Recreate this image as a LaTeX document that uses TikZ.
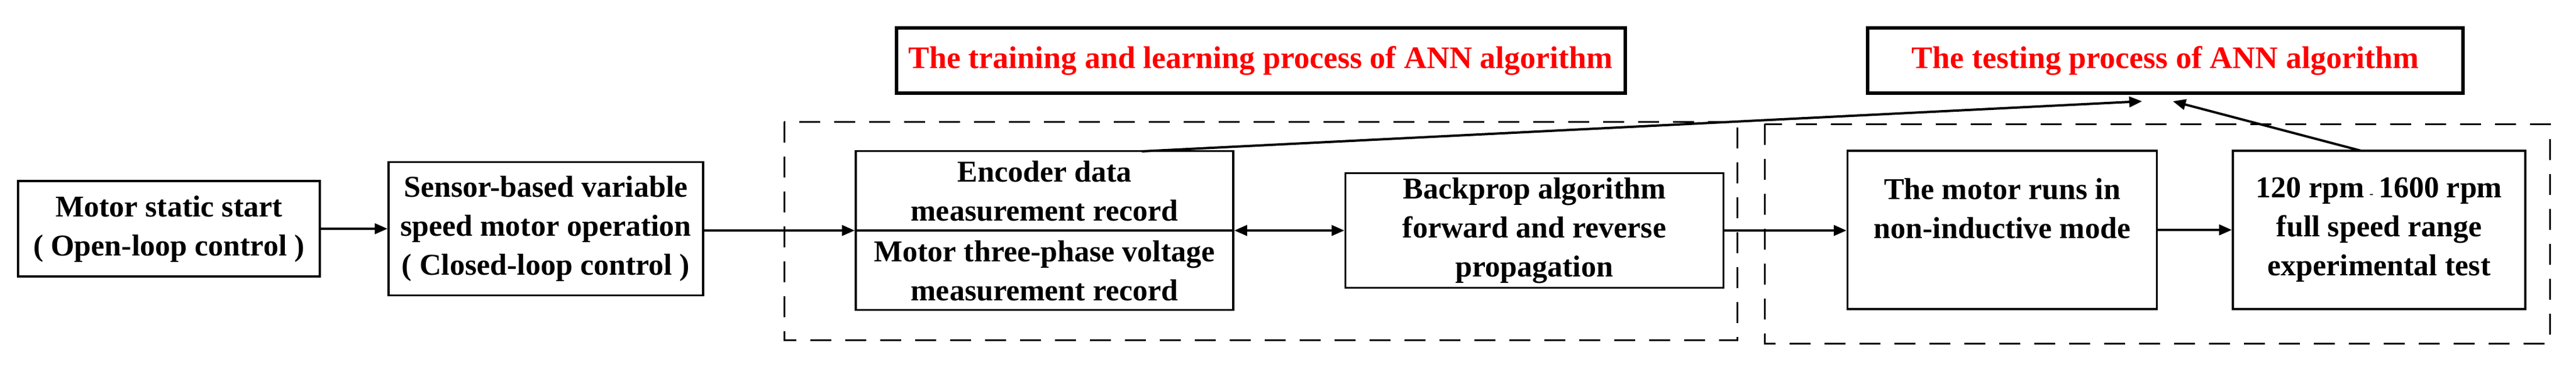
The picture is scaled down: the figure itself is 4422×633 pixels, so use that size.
\documentclass[tikz,border=0pt]{standalone}
\usepackage{fontspec}
\setmainfont{Liberation Serif}
\usetikzlibrary{arrows.meta}
\begin{document}
\begin{tikzpicture}[x=1pt,y=-1pt,
  box/.style={draw,line width=3.5pt,inner sep=0pt,align=center,font=\fontsize{52}{67}\selectfont\bfseries},
  title/.style={draw,line width=6pt,inner sep=0pt,text=red,font=\fontsize{54}{60}\selectfont\bfseries},
  dbox/.style={draw,line width=3pt,dash pattern=on 36pt off 24pt},
  arr/.style={line width=4pt,-{Triangle[length=22pt,width=18pt]}},
  darr/.style={line width=4pt,{Triangle[length=22pt,width=18pt]}-{Triangle[length=22pt,width=18pt]}}]
\useasboundingbox (0,0) rectangle (4422,633);
\node[box,minimum width=518pt,minimum height=164pt] (b1) at (290,393) {Motor static start\\( Open-loop control )};
\node[box,minimum width=540pt,minimum height=229pt] (b2) at (937,393) {Sensor-based variable\\speed motor operation\\( Closed-loop control )};
\node[box,minimum width=648pt,minimum height=273pt] (b3) at (1793,396) {};
\draw[line width=3.5pt] (b3.west) -- (b3.east);
\node[align=center,font=\fontsize{52}{67}\selectfont\bfseries] (t3a) at (1793,328) {Encoder data\\measurement record};
\node[align=center,font=\fontsize{52}{67}\selectfont\bfseries] (t3b) at (1793,465) {Motor three-phase voltage\\measurement record};
\node[box,minimum width=649pt,minimum height=197pt] (b4) at (2634,396) {Backprop algorithm\\forward and reverse\\propagation};
\node[box,minimum width=531pt,minimum height=272pt,text depth=75pt] (b5) at (3437,395) {The motor runs in\\non-inductive mode};
\node[box,minimum width=502pt,minimum height=272pt] (b6) at (4084,395) {120 rpm\,{\fontsize{20}{20}\selectfont-}\,1600 rpm\\full speed range\\experimental test};
\node[title,minimum width=1251pt,minimum height=112pt] (ti1) at (2164,104) {The training and learning process of ANN algorithm};
\node[title,minimum width=1022pt,minimum height=112pt] (ti2) at (3717,104) {The testing process of ANN algorithm};
\draw[dbox] (1346,209) rectangle (2982,584);
\draw[dbox] (3029,213) rectangle (4377,590);
\coordinate (e1) at (1960,260);
\coordinate (p1) at (3677,174);
\coordinate (e2) at (4053,259);
\coordinate (p2) at (3730,174);
\draw[arr] (b1.east) -- (b2.west);
\draw[arr] (b2.east |- b3.west) -- (b3.west);
\draw[darr] (b3.east) -- (b4.west);
\draw[arr] (b4.east) -- (b5.west |- b4.east);
\draw[arr] (b5.east) -- (b6.west);
\draw[arr] (e1) -- (p1);
\draw[arr] (e2) -- (p2);
\end{tikzpicture}
\end{document}
